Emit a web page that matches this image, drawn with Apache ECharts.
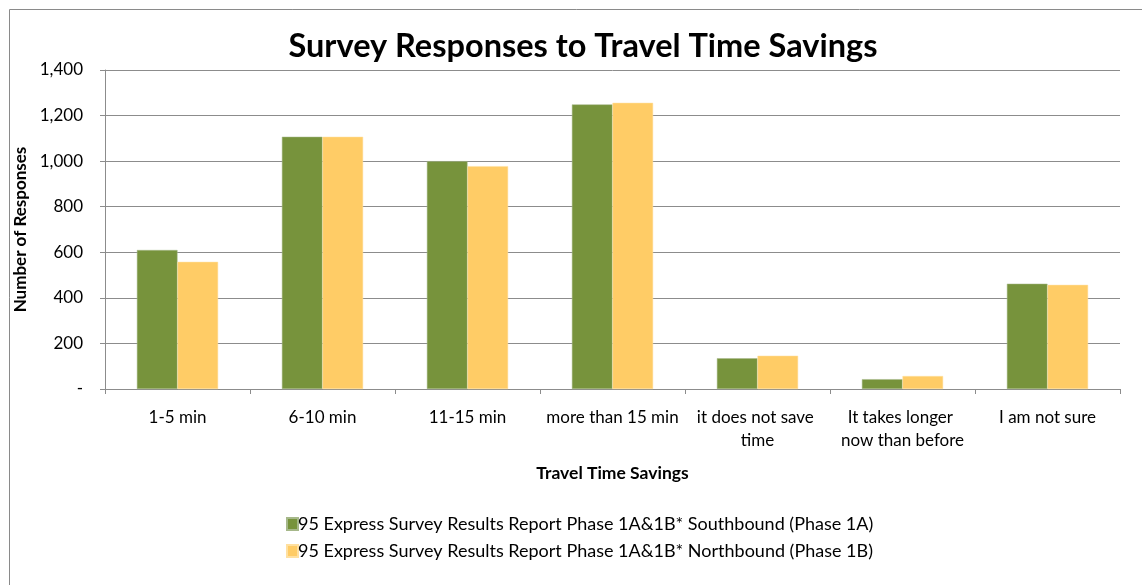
<!DOCTYPE html>
<html>
<head>
<meta charset="utf-8">
<script src="https://cdn.jsdelivr.net/npm/echarts@6/dist/echarts.min.js"></script>
<style>html,body{margin:0;padding:0;background:#fff}#c{width:1142px;height:585px}</style>
</head>
<body>
<div id="c"></div>
<script>
const categories = ["1-5 min", "6-10 min", "11-15 min", "more than 15 min", "it does not save time", "It takes longer now than before", "I am not sure"];
const southbound = [610, 1107, 1000, 1249, 135, 43, 462];
const northbound = [558, 1107, 978, 1256, 146, 57, 457];
const seriesNames = ["95 Express Survey Results Report Phase 1A&1B* Southbound (Phase 1A)", "95 Express Survey Results Report Phase 1A&1B* Northbound (Phase 1B)"];
const FONT = "Lato";

const chart = echarts.init(document.getElementById('c'));
chart.setOption({
  animation: false,
  backgroundColor: '#fff',
  textStyle: { fontFamily: FONT, color: '#000' },
  graphic: [{
    type: 'rect', left: 7, top: 7, silent: true,
    shape: { width: 1200, height: 700 },
    style: { fill: 'none', stroke: '#8a8a8a', lineWidth: 1 }
  }],
  title: {
    text: 'Survey Responses to Travel Time Savings',
    left: 578, textAlign: 'center', top: 25,
    textStyle: { fontFamily: FONT, fontWeight: 'bold', fontSize: 32.5, color: '#000' }
  },
  legend: {
    orient: 'vertical', left: 281, top: 510, itemGap: 9,
    itemWidth: 11, itemHeight: 12, icon: 'rect',
    textStyle: { fontFamily: FONT, fontSize: 18, color: '#000', padding: [0,0,0,-5] },
    data: seriesNames
  },
  grid: { left: 105, right: 22, top: 70, bottom: 196, containLabel: false },
  xAxis: {
    type: 'category', data: categories,
    name: 'Travel Time Savings', nameLocation: 'middle', nameGap: 75,
    nameTextStyle: { fontFamily: FONT, fontWeight: 'bold', fontSize: 17.5, color: '#000' },
    axisLine: { lineStyle: { color: '#8c8c8c', width: 1 } },
    axisTick: { show: true, length: 5, lineStyle: { color: '#8c8c8c' } },
    axisLabel: { interval: 0, fontFamily: FONT, fontSize: 17, color: '#000', margin: 17, width: 137, overflow: 'break', lineHeight: 23 }
  },
  yAxis: {
    type: 'value', min: 0, max: 1400, interval: 200,
    name: 'Number of Responses', nameLocation: 'middle', nameGap: 74, nameRotate: 90,
    nameTextStyle: { fontFamily: FONT, fontWeight: 'bold', fontSize: 17, color: '#000' },
    axisLine: { show: true, lineStyle: { color: '#8c8c8c', width: 1 } },
    axisTick: { show: true, length: 5, lineStyle: { color: '#8c8c8c' } },
    splitLine: { lineStyle: { color: '#8c8c8c', width: 1 } },
    axisLabel: {
      fontFamily: FONT, fontSize: 17, color: '#000', margin: 22,
      formatter: v => v === 0 ? '-' : v.toLocaleString('en-US')
    }
  },
  series: [
    { name: seriesNames[0], type: 'bar', data: southbound, barGap: '0%', barCategoryGap: '44%',
      itemStyle: { color: '#77933C', borderColor: '#a6b88a', borderWidth: 0.5 } },
    { name: seriesNames[1], type: 'bar', data: northbound, barGap: '0%', barCategoryGap: '44%',
      itemStyle: { color: '#FFCC66', borderColor: '#ffe0a0', borderWidth: 0.5 } }
  ]
});
</script>
</body>
</html>
